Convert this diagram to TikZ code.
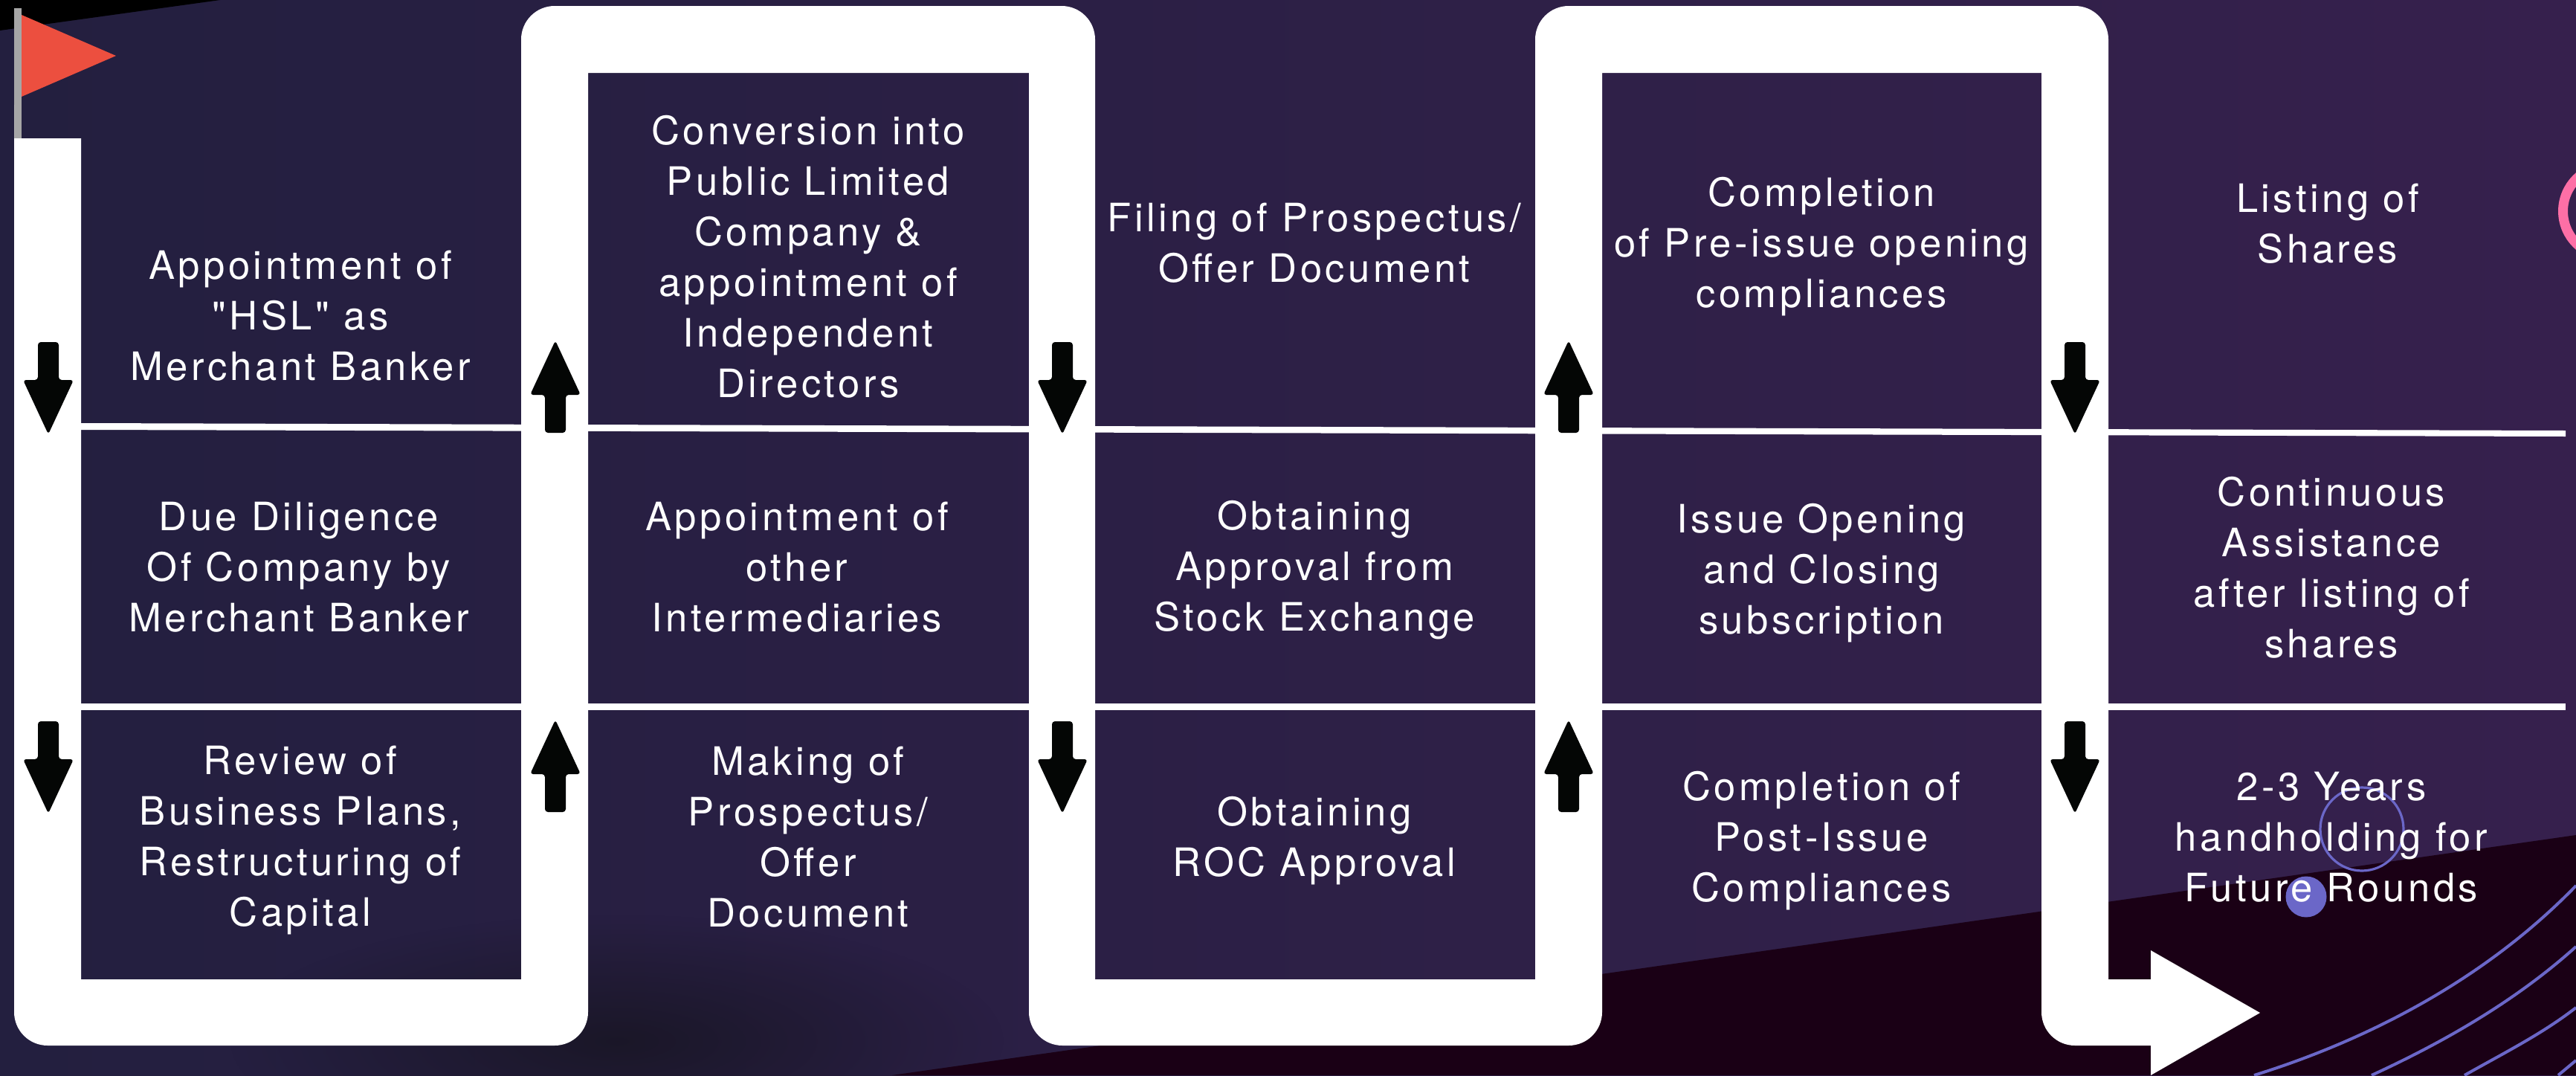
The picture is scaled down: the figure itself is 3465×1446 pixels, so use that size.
\documentclass[tikz,border=0pt]{standalone}
\usepackage{fontspec}
\setmainfont[LetterSpace=8.5,Ligatures=TeXOff]{TeX Gyre Heros}
\usetikzlibrary{fadings}
\definecolor{bgleft}{HTML}{231F3F}
\definecolor{bgright}{HTML}{36204D}
\definecolor{maroon}{HTML}{1A0015}
\definecolor{smudge}{HTML}{16141F}
\definecolor{periw}{HTML}{6B67C8}
\definecolor{pinkring}{HTML}{FD6FA6}
\definecolor{flagred}{HTML}{EC4F3F}
\definecolor{polegrey}{HTML}{A6A6A6}
\definecolor{arrowblk}{HTML}{040605}
\tikzfading[name=softedge, inner color=transparent!0, outer color=transparent!100]
\tikzset{
  lbl/.style={text=white, align=center, inner sep=0pt, font=\fontsize{26.3}{34}\selectfont},
  rule/.style={fill=white},
  arc line/.style={draw=periw, line width=2pt},
  pics/downarrow/.style={code={
    \fill[arrowblk, rounded corners=2pt] (-14,-61) -- (14,-61) -- (14,-10) -- (34,-10) -- (0,63) -- (-34,-10) -- (-14,-10) -- cycle;
  }},
  pics/uparrow/.style={code={
    \fill[arrowblk, rounded corners=2pt] (-14,61) -- (14,61) -- (14,10) -- (34,10) -- (0,-63) -- (-34,10) -- (-14,10) -- cycle;
  }},
}
\begin{document}
\begin{tikzpicture}[x=0.5pt,y=-0.5pt]
\useasboundingbox (0,0) rectangle (3465,1446);
\clip (0,0) rectangle (3465,1446);
% background
\shade[left color=bgleft, right color=bgright] (0,0) rectangle (3465,1446);
\fill[black] (0,0) -- (296,0) -- (0,41) -- cycle;
\fill[smudge, opacity=.75, path fading=softedge] (830,1400) ellipse (520 and 170);
\fill[maroon] (1200,1446) -- (3465,1123) -- (3465,1446) -- cycle;
% decorative arcs and circles
\draw[arc line] (3032,1446) .. controls (3180,1400) and (3340,1320) .. (3465,1191);
\draw[arc line] (3190,1446) .. controls (3290,1400) and (3385,1345) .. (3465,1273);
\draw[arc line] (3315,1446) .. controls (3370,1415) and (3420,1390) .. (3465,1355);
\draw[arc line] (3441,1446) -- (3465,1426);
\draw[periw, line width=1.6pt] (3177,1115) circle (56);
\fill[periw] (3102,1206) circle (27.5);
\draw[pinkring, line width=6.5pt] (3509,284) circle (61.5);
% flag
\fill[polegrey] (19,11) rectangle (29,186);
\fill[flagred] (29,20) -- (156,75) -- (29,130) -- cycle;
% snake band
\fill[white] (19,186) -- (109,186) -- (109,1317) -- (701,1317)
  [rounded corners=22.5pt] -- (701,8) -- (1473,8) [sharp corners] -- (1473,1317) -- (2065,1317)
  [rounded corners=22.5pt] -- (2065,8) -- (2836,8) [sharp corners] -- (2836,1317) -- (2893,1317) -- (2893,1278) -- (3040,1362) -- (2893,1446) -- (2893,1406)
  [rounded corners=22.5pt] -- (2746,1406) [sharp corners] -- (2746,98) -- (2155,98)
  [rounded corners=22.5pt] -- (2155,1406) -- (1384,1406) [sharp corners] -- (1384,98) -- (791,98)
  [rounded corners=22.5pt] -- (791,1406) -- (19,1406) -- (19,186) [sharp corners] -- cycle;
% row rules
\fill[rule] (109,569) -- (3451,579) -- (3451,587) -- (109,578) -- cycle;
\fill[rule] (109,946) rectangle (3451,955);
% small arrows
\foreach \xx in {65,1429,2791} {
  \pic at (\xx,521) {downarrow};
  \pic at (\xx,1031) {downarrow};
}
\foreach \xx in {747,2110} {
  \pic at (\xx,521) {uparrow};
  \pic at (\xx,1031) {uparrow};
}
% labels
\node[lbl] (a1) at (404,425) {Appointment of\\"HSL" as\\Merchant Banker};
\node[lbl] (a2) at (402,763) {Due Diligence\\Of Company by\\Merchant Banker};
\node[lbl] (a3) at (404,1130) {Review of\\Business Plans,\\Restructuring of\\Capital};
\node[lbl] (b1) at (1087,345) {Conversion into\\Public Limited\\Company \&\\appointment of\\Independent\\Directors};
\node[lbl] (b2) at (1072,763) {Appointment of\\other\\Intermediaries};
\node[lbl] (b3) at (1087,1126) {Making of\\Prospectus/\\Offer\\Document};
\node[lbl] (c1) at (1768,327) {Filing of Prospectus/\\Offer Document};
\node[lbl] (c2) at (1768,767) {Obtaining\\Approval from\\Stock Exchange};
\node[lbl] (c3) at (1768,1131) {Obtaining\\ROC Approval};
\node[lbl] (d1) at (2450,332) {Completion\\of Pre-issue opening\\compliances};
\node[lbl] (d2) at (2450,771) {Issue Opening\\and Closing\\subscription};
\node[lbl] (d3) at (2450,1131) {Completion of\\Post-Issue\\Compliances};
\node[lbl] (e1) at (3131,301) {Listing of\\Shares};
\node[lbl] (e2) at (3136,763) {Continuous\\Assistance\\after listing of\\shares};
\node[lbl] (e3) at (3136,1126) {2-3 Years\\handholding for\\Future Rounds};
\end{tikzpicture}
\end{document}
